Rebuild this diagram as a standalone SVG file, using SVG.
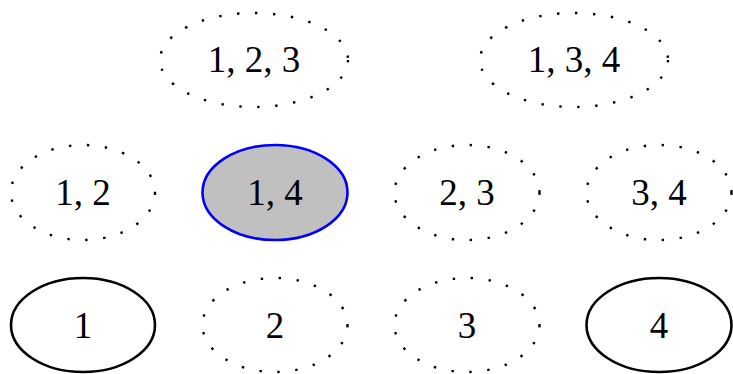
<svg xmlns="http://www.w3.org/2000/svg" width="733" height="374" viewBox="0 0 733 374">
<style>
.n ellipse{fill:none;stroke:#000;stroke-width:2.6}
.d ellipse{stroke-width:2.4;stroke-dasharray:2.4,15.6}
.s ellipse{fill:#c0c0c0;stroke:#0000ff}
text{font-family:"Liberation Serif","Times New Roman",serif;font-size:37px;text-anchor:middle;fill:#000}
</style>
<rect width="733" height="374" fill="#fff"/>
<g id="connectors"/>
<g id="n123" class="n d"><ellipse cx="254" cy="60" rx="94" ry="47"/><text x="254" y="72">1, 2, 3</text></g>
<g id="n134" class="n d"><ellipse cx="574" cy="60" rx="94" ry="47"/><text x="574" y="72">1, 3, 4</text></g>
<g id="n12" class="n d"><ellipse cx="83" cy="192.5" rx="72" ry="47.5"/><text x="83" y="205">1, 2</text></g>
<g id="n14" class="n s"><ellipse cx="275" cy="192.5" rx="72.5" ry="47.5"/><text x="275" y="205">1, 4</text></g>
<g id="n23" class="n d"><ellipse cx="467" cy="192.5" rx="72.5" ry="47.5"/><text x="467" y="205">2, 3</text></g>
<g id="n34" class="n d"><ellipse cx="659" cy="192.5" rx="72.5" ry="47.5"/><text x="659" y="205">3, 4</text></g>
<g id="n1" class="n"><ellipse cx="83" cy="325" rx="72" ry="47"/><text x="83" y="338">1</text></g>
<g id="n2" class="n d"><ellipse cx="275" cy="325" rx="72.5" ry="47"/><text x="275" y="338">2</text></g>
<g id="n3" class="n d"><ellipse cx="467" cy="325" rx="72.5" ry="47"/><text x="467" y="338">3</text></g>
<g id="n4" class="n"><ellipse cx="659" cy="325" rx="72.5" ry="47"/><text x="659" y="338">4</text></g>
</svg>
